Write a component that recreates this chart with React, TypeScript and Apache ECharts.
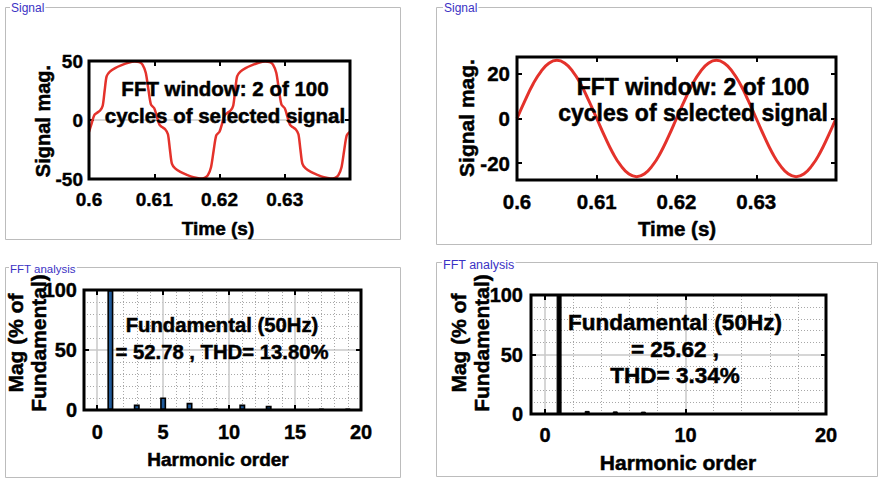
import React, { useEffect, useRef } from "react";
import * as echarts from "echarts";

const FONT = '"Liberation Sans", Arial, Helvetica, sans-serif';

// ---- Signal panel 1 (distorted waveform) ----
const sig1Time = [
  0.6, 0.6004, 0.6008, 0.6012, 0.6017, 0.6021, 0.6024, 0.6027, 0.6032, 0.604, 0.605, 0.606, 0.607, 0.6077, 0.6082,
  0.6087, 0.6091, 0.6095, 0.61, 0.6104, 0.6108, 0.6112, 0.6117, 0.6121, 0.6124, 0.6127, 0.6132, 0.614, 0.615, 0.616,
  0.617, 0.6177, 0.6182, 0.6187, 0.6191, 0.6195, 0.62,
  0.6204, 0.6208, 0.6212, 0.6217, 0.6221, 0.6224, 0.6227, 0.6232, 0.624, 0.625, 0.626, 0.627, 0.6277, 0.6282,
  0.6287, 0.6291, 0.6295, 0.63, 0.6304, 0.6308, 0.6312, 0.6317, 0.6321, 0.6324, 0.6327, 0.6332, 0.634, 0.635, 0.636,
  0.637, 0.6377, 0.6382, 0.6387, 0.6391, 0.6395, 0.64,
];
const sig1Value = [
  -10, -3, 4, 6, 8, 12, 25, 37, 41, 44, 46.5, 48.5, 49.5, 49, 47,
  40, 26, 13, 10, 3, -4, -6, -8, -12, -25, -37, -41, -44, -46.5, -48.5,
  -49.5, -49, -47, -40, -26, -13, -10,
  -3, 4, 6, 8, 12, 25, 37, 41, 44, 46.5, 48.5, 49.5, 49, 47,
  40, 26, 13, 10, 3, -4, -6, -8, -12, -25, -37, -41, -44, -46.5, -48.5,
  -49.5, -49, -47, -40, -26, -13, -10,
];

// ---- Signal panel 2 (sinusoid) ----
const sig2Time = [
  0.6, 0.601, 0.602, 0.603, 0.604, 0.605, 0.606, 0.607, 0.608, 0.609, 0.61, 0.611, 0.612, 0.613, 0.614, 0.615,
  0.616, 0.617, 0.618, 0.619, 0.62, 0.621, 0.622, 0.623, 0.624, 0.625, 0.626, 0.627, 0.628, 0.629, 0.63, 0.631,
  0.632, 0.633, 0.634, 0.635, 0.636, 0.637, 0.638, 0.639, 0.64,
];
const sig2Value = [
  0, 8, 15.3, 21, 24.7, 26, 24.7, 21, 15.3, 8, 0, -8, -15.3, -21, -24.7, -26,
  -24.7, -21, -15.3, -8, 0, 8, 15.3, 21, 24.7, 26, 24.7, 21, 15.3, 8, 0, -8,
  -15.3, -21, -24.7, -26, -24.7, -21, -15.3, -8, 0,
];

// ---- FFT spectra (% of fundamental) ----
const harmonicOrder = [0, 1, 2, 3, 4, 5, 6, 7, 8, 9, 10, 11, 12, 13, 14, 15, 16, 17, 18, 19];
const fft1Mag = [0, 100, 0, 4.5, 0, 10.5, 0, 6, 0, 1.2, 0, 4.5, 0, 3.5, 0, 0.3, 0, 1, 0, 1];
const fft2Mag = [0, 100, 0, 2.6, 0, 2.2, 0, 2.0, 0, 0.3, 0, 0.3, 0, 0.2, 0, 0.1, 0, 0.1, 0, 0.1];

// minor grid positions (harmonic axis)
const fft1MinorX = [1, 2, 3, 4, 6, 7, 8, 9, 11, 12, 13, 14, 16, 17, 18, 19];
const fft2MinorX = [2, 4, 6, 8, 12, 14, 16, 18];

const RED = "#e4322b";
const MAJOR_GRID = "#c8c8c8";
const MINOR_GRID = "#a8a8a8";

const grids = [
  { left: 89, top: 61, width: 261, height: 118 },
  { left: 517, top: 57, width: 319, height: 123 },
  { left: 84, top: 290, width: 277, height: 120 },
  { left: 531, top: 295, width: 295, height: 119 },
];

const tick = { show: true, inside: true, length: 5, lineStyle: { color: "#000", width: 2 } };
const noLine = { show: false, onZero: false };

function label(size: number, margin: number, extra: any = {}) {
  return {
    show: true,
    color: "#000",
    fontFamily: FONT,
    fontWeight: "bold",
    fontSize: size,
    margin,
    textBorderColor: "#000",
    textBorderWidth: 0.4,
    ...extra,
  };
}

export default function App() {
  const ref = useRef<HTMLDivElement>(null);

  useEffect(() => {
    if (!ref.current) return;
    const chart = echarts.init(ref.current, null, { renderer: "svg" });

    const xRanges: any[] = [
      { min: 0.6, max: 0.64, interval: 0.01 },
      { min: 0.6, max: 0.64, interval: 0.01 },
      { min: -1, max: 20, splitNumber: 4 },
      { min: -1, max: 20, splitNumber: 2 },
    ];
    const yRanges: any[] = [
      { min: -50, max: 50, interval: 50 },
      { min: -27.5, max: 27.5, splitNumber: 3 },
      { min: 0, max: 100, interval: 50 },
      { min: 0, max: 100, interval: 50 },
    ];
    const xLabelSize = [19, 20.5, 20, 20];
    const xLabelMargin = [11, 11, 12, 11];
    const yLabelSize = [19, 20.5, 20, 20];
    const yLabelMargin = [6, 7, 7, 8];

    const xAxis: any[] = [];
    const yAxis: any[] = [];
    for (let i = 0; i < 4; i++) {
      const fft = i >= 2;
      xAxis.push({
        type: "value",
        gridIndex: i,
        position: "bottom",
        ...xRanges[i],
        axisLine: noLine,
        axisTick: tick,
        axisLabel: label(xLabelSize[i], xLabelMargin[i], { showMaxLabel: fft, showMinLabel: !fft }),
        splitLine: { show: fft, lineStyle: { color: MAJOR_GRID, width: 1.5 } },
      });
      yAxis.push({
        type: "value",
        gridIndex: i,
        position: "left",
        ...yRanges[i],
        axisLine: noLine,
        axisTick: tick,
        axisLabel: label(yLabelSize[i], yLabelMargin[i], i === 1 ? { showMinLabel: false, showMaxLabel: false } : {}),
        splitLine: { show: i !== 1, lineStyle: { color: MAJOR_GRID, width: 1.5 } },
        minorTick: { show: false, splitNumber: 5 },
        minorSplitLine: fft ? { show: true, lineStyle: { color: MINOR_GRID, width: 1, type: [1, 2] } } : { show: false },
      });
    }
    for (let i = 0; i < 4; i++) {
      xAxis.push({
        type: "value",
        gridIndex: i,
        position: "top",
        ...xRanges[i],
        axisLine: noLine,
        axisTick: tick,
        axisLabel: { show: false },
        splitLine: { show: false },
      });
      yAxis.push({
        type: "value",
        gridIndex: i,
        position: "right",
        ...yRanges[i],
        axisLine: noLine,
        axisTick: tick,
        axisLabel: { show: false },
        splitLine: { show: false },
      });
    }

    const minorMark = (xs: number[]) => ({
      silent: true,
      symbol: "none",
      label: { show: false },
      lineStyle: { color: MINOR_GRID, width: 1, type: [1, 2] },
      data: xs.map((v) => ({ xAxis: v })),
    });

    const series: any[] = [
      {
        type: "line",
        xAxisIndex: 0,
        yAxisIndex: 0,
        data: sig1Time.map((t, k) => [t, sig1Value[k]]),
        showSymbol: false,
        smooth: 0.25,
        lineStyle: { color: RED, width: 2.5 },
        z: 5,
      },
      {
        type: "line",
        xAxisIndex: 1,
        yAxisIndex: 1,
        data: sig2Time.map((t, k) => [t, sig2Value[k]]),
        showSymbol: false,
        smooth: true,
        lineStyle: { color: RED, width: 3 },
        z: 5,
      },
      {
        type: "bar",
        xAxisIndex: 2,
        yAxisIndex: 2,
        data: harmonicOrder.map((h, k) => [h, fft1Mag[k]]),
        barWidth: 6,
        itemStyle: { color: "#1f5a9a", borderColor: "#000", borderWidth: 1.6 },
        markLine: minorMark(fft1MinorX),
        z: 5,
      },
      {
        type: "bar",
        xAxisIndex: 3,
        yAxisIndex: 3,
        data: harmonicOrder.map((h, k) => [h, fft2Mag[k]]),
        barWidth: 5,
        itemStyle: { color: "#000", borderColor: "#000", borderWidth: 1 },
        markLine: minorMark(fft2MinorX),
        z: 5,
      },
    ];

    const frame = (x: number, y: number, w: number, h: number) => ({
      type: "rect",
      shape: { x: x + 0.5, y: y + 0.5, width: w, height: h },
      style: { fill: "none", stroke: "#bcbcbc", lineWidth: 1 },
      z: 1,
    });
    const plotBox = (g: any) => ({
      type: "rect",
      shape: { x: g.left, y: g.top, width: g.width, height: g.height },
      style: { fill: "none", stroke: "#000", lineWidth: 3 },
      silent: true,
      z: 15,
    });
    const title = (text: string, x: number, y: number, size: number) => ({
      type: "text",
      x,
      y,
      style: {
        text,
        font: `${size}px ${FONT}`,
        fill: "#3b32c4",
        align: "left",
        verticalAlign: "middle",
        backgroundColor: "#fff",
        padding: [0, 1],
      },
      z: 2,
    });
    const bold = (text: string, x: number, y: number, size: number, rot = 0, lineHeight?: number) => ({
      type: "text",
      x,
      y,
      rotation: rot,
      style: {
        text,
        font: `bold ${size}px ${FONT}`,
        fill: "#000",
        stroke: "#000",
        lineWidth: 0.5,
        align: "center",
        verticalAlign: "middle",
        lineHeight: lineHeight ?? Math.round(size * 1.2),
      },
      z: 20,
    });

    const graphic: any[] = [
      frame(5, 7, 395, 232),
      frame(436, 7, 435, 237),
      frame(5, 267, 395, 210),
      frame(436, 262, 441, 214),
      ...grids.map(plotBox),
      title("Signal", 10, 8, 12),
      title("Signal", 443, 8, 12),
      title("FFT analysis", 9, 269, 11.5),
      title("FFT analysis", 442, 265, 12.5),
      // axis names
      bold("Signal mag.", 43, 121, 20, Math.PI / 2),
      bold("Time (s)", 218, 228, 19),
      bold("Signal mag.", 466, 118, 21, Math.PI / 2),
      bold("Time (s)", 677, 228, 20.5),
      bold("Mag (% of\nFundamental)", 27, 343, 21, Math.PI / 2, 23),
      bold("Harmonic order", 218, 459, 19),
      bold("Mag (% of\nFundamental)", 470, 343, 21, Math.PI / 2, 23),
      bold("Harmonic order", 678, 462, 21),
      // annotations
      bold("FFT window: 2 of 100\ncycles of selected signal", 225, 102, 20.5, 0, 27),
      bold("FFT window: 2 of 100\ncycles of selected signal", 693, 100, 23, 0, 26),
      bold("Fundamental (50Hz)\n= 52.78 , THD= 13.80%", 222, 338, 20.3, 0, 27),
      bold("Fundamental (50Hz)\n= 25.62 ,\nTHD= 3.34%", 675, 349, 22.5, 0, 26.5),
    ];

    chart.setOption({
      animation: false,
      backgroundColor: "#fff",
      grid: grids.map((g) => ({ ...g, show: true, borderWidth: 0, backgroundColor: "#fff", containLabel: false })),
      xAxis,
      yAxis,
      series,
      graphic,
    });

    return () => chart.dispose();
  }, []);

  return (
    <div
      ref={ref}
      style={{ position: "fixed", left: 0, top: 0, width: 878, height: 481, background: "#fff" }}
    />
  );
}
